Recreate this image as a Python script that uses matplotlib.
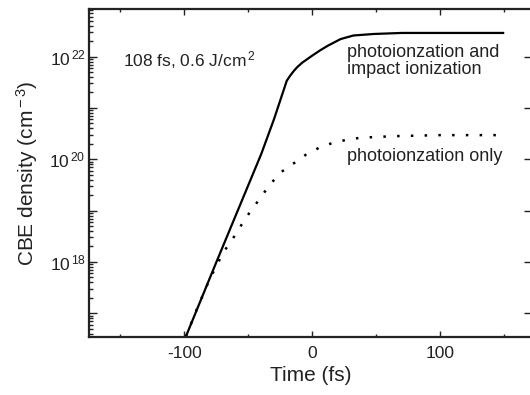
import numpy as np
import matplotlib
matplotlib.use("Agg")
import matplotlib.pyplot as plt
from matplotlib.ticker import FixedLocator, FuncFormatter, LogLocator, NullFormatter

plt.rcParams['font.family'] = ['Liberation Sans', 'DejaVu Sans']
plt.rcParams['mathtext.fontset'] = 'custom'
plt.rcParams['mathtext.rm'] = 'Liberation Sans'
plt.rcParams['mathtext.it'] = 'Liberation Sans:italic'
plt.rcParams['mathtext.bf'] = 'Liberation Sans:bold'
plt.rcParams['axes.unicode_minus'] = False

# log10 of CBE density vs time, photo + impact ionization
t_both = [-99, -75, -60, -50, -40, -30, -20, -17, -14.5, -12, -8, -4, 0, 6, 12, 22, 32, 48, 70, 100, 150]
logn_both = [16.54, 18.00, 18.90, 19.50, 20.10, 20.78, 21.53, 21.64, 21.72, 21.79, 21.88, 21.95,
             22.02, 22.12, 22.21, 22.34, 22.41, 22.44, 22.46, 22.46, 22.46]

# photoionization only
t_photo = [-99, -90, -80, -70, -61, -55, -48.6, -42, -34, -25, -14, -5, 5, 16, 27, 38, 64, 100, 150]
logn_photo = [16.54, 17.10, 17.68, 18.17, 18.50, 18.74, 18.98, 19.20, 19.48, 19.74, 19.93,
              20.09, 20.22, 20.32, 20.38, 20.42, 20.45, 20.47, 20.47]

fig = plt.figure(figsize=(5.3, 3.95), dpi=100)
ax = fig.add_axes([0.167, 0.1476, 0.8375, 0.8284])

ax.plot(t_both, 10.0 ** np.array(logn_both), color='black', lw=1.6, solid_capstyle='butt')
ax.plot(t_photo, 10.0 ** np.array(logn_photo), color='black', lw=1.8,
        linestyle=(0, (1, 4.5)), dash_capstyle='butt')

ax.set_yscale('log')
ax.set_xlim(-175, 172)
ax.set_ylim(10 ** 16.544, 10 ** 22.917)

ax.xaxis.set_major_locator(FixedLocator([-100, 0, 100]))
ax.xaxis.set_minor_locator(FixedLocator([-150, -50, 50, 150]))
ax.yaxis.set_major_locator(FixedLocator([10.0 ** k for k in range(16, 24)]))
ax.yaxis.set_minor_locator(LogLocator(base=10, subs=np.arange(2, 10), numticks=20))
ax.yaxis.set_minor_formatter(NullFormatter())


def ylab(v, pos):
    k = int(round(np.log10(v)))
    return r'$10^{\,%d}$' % k if k % 2 == 0 else ''


ax.yaxis.set_major_formatter(FuncFormatter(ylab))

ax.tick_params(axis='both', which='both', direction='in', top=True, right=True,
               labelsize=12.5, colors='#222222', width=1.0)
ax.tick_params(axis='x', which='major', length=4.5, pad=7)
ax.tick_params(axis='x', which='minor', length=2.5)
ax.tick_params(axis='y', which='major', length=5.5, pad=2)
ax.tick_params(axis='y', which='minor', length=3, right=False)
for s in ax.spines.values():
    s.set_linewidth(1.6)
    s.set_color('#222222')

ax.set_xlabel('Time (fs)', fontsize=15, color='#222222', labelpad=3)
ax.set_ylabel(r'CBE density (cm$^{\rm -3}$)', fontsize=15, color='#222222', labelpad=7)

ax.text(-148, 10 ** 21.8, r'108 fs, 0.6 J/cm$^{\,2}$', fontsize=12.5, color='#222222',
        va='baseline')
ax.text(27.4, 10 ** 22.0, 'photoionzation and', fontsize=13, color='#222222', va='baseline')
ax.text(27.4, 10 ** 21.67, 'impact ionization', fontsize=13, color='#222222', va='baseline')
ax.text(27.4, 10 ** 19.96, 'photoionzation only', fontsize=13, color='#222222', va='baseline')

fig.savefig('out.png', dpi=100)
